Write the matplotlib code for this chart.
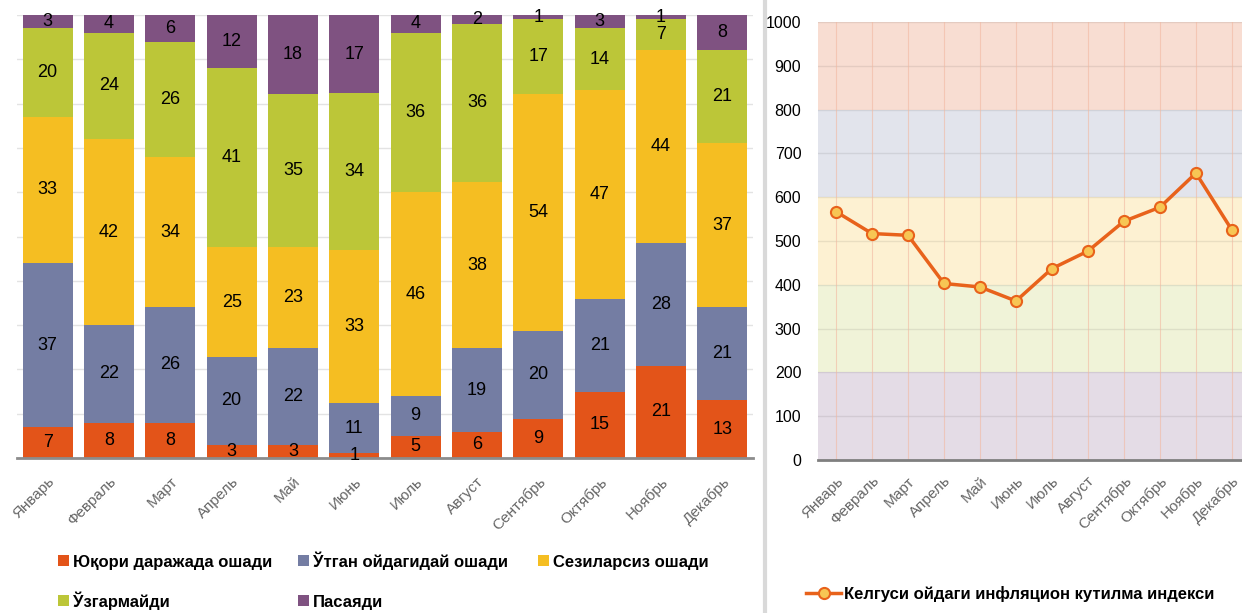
import numpy as np
import matplotlib.pyplot as plt
from matplotlib.lines import Line2D
from matplotlib.patches import Rectangle

plt.rcParams['font.family'] = ['Liberation Sans', 'DejaVu Sans']

# Ойлар
oylar = ['Январь', 'Февраль', 'Март', 'Апрель', 'Май', 'Июнь',
         'Июль', 'Август', 'Сентябрь', 'Октябрь', 'Ноябрь', 'Декабрь']

# Чап диаграмма (фоизларда)
yuqori = [7, 8, 8, 3, 3, 1, 5, 6, 9, 15, 21, 13]
utgan = [37, 22, 26, 20, 22, 11, 9, 19, 20, 21, 28, 21]
sezilarsiz = [33, 42, 34, 25, 23, 33, 46, 38, 54, 47, 44, 37]
uzgarmaydi = [20, 24, 26, 41, 35, 34, 36, 36, 17, 14, 7, 21]
pasayadi = [3, 4, 6, 12, 18, 17, 4, 2, 1, 3, 1, 8]

seriya_nomlari = ['Юқори даражада ошади', 'Ўтган ойдагидай ошади',
                  'Сезиларсиз ошади', 'Ўзгармайди', 'Пасаяди']
ranglar = ['#E35419', '#747DA3', '#F5BE22', '#BCC638', '#7F5281']

# Ўнг диаграмма
indeks = [567, 517, 513, 403, 395, 363, 437, 477, 545, 577, 655, 525]

W, H = 1242, 613
fig = plt.figure(figsize=(W / 100, H / 100), dpi=100)

# ---- чап
ax1 = fig.add_axes([17 / W, 155 / H, 736 / W, 443 / H])
x = np.arange(len(oylar))
seriyalar = [yuqori, utgan, sezilarsiz, uzgarmaydi, pasayadi]
jami = np.sum(np.array(seriyalar), axis=0)
pastki = np.zeros(len(oylar))
for qiymat, rang in zip(seriyalar, ranglar):
    q = np.array(qiymat) / jami * 100
    ax1.bar(x, q, 0.82, bottom=pastki, color=rang, zorder=2)
    for i in range(len(x)):
        ax1.text(x[i], pastki[i] + q[i] / 2, str(qiymat[i]), ha='center', va='center',
                 fontsize=13, color='black', zorder=3)
    pastki += q

ax1.set_xlim(-0.5, 11.5)
ax1.set_ylim(0, 100)
ax1.set_yticks(np.arange(0, 101, 10))
ax1.yaxis.grid(True, color='#E3E3E3', lw=1, zorder=0)
ax1.tick_params(axis='y', length=0, labelleft=False)
ax1.tick_params(axis='x', length=0, pad=12)
ax1.set_xticks(x)
ax1.set_xticklabels(oylar, rotation=45, ha='right', rotation_mode='anchor',
                    color='#666666', fontsize=11)
for s in ['top', 'right', 'left']:
    ax1.spines[s].set_visible(False)
ax1.spines['bottom'].set_color('#8C8C8C')
ax1.spines['bottom'].set_linewidth(2)

# легенда: 3 устун, 2 қатор (пиксел жойлари)
leg_x = [58, 298, 538]
leg_y = [567, 607]  # матн таянч чизиғи
for k, (nom, rang) in enumerate(zip(seriya_nomlari, ranglar)):
    lx = leg_x[k % 3]
    ly = leg_y[k // 3]
    fig.add_artist(Rectangle((lx / W, 1 - (ly - 1) / H), 11 / W, 11 / H,
                             transform=fig.transFigure, color=rang, lw=0))
    fig.text((lx + 15) / W, 1 - ly / H, nom, ha='left', va='baseline',
             fontsize=12, fontweight='bold', color='black')

# ажратувчи чизиқ
fig.add_artist(Line2D([765 / W, 765 / W], [0, 1], color='#D9D9D9', lw=3, zorder=-1))

# ---- ўнг
ax2 = fig.add_axes([818 / W, 153 / H, 424 / W, 438 / H])
bandlar = [(0, 200, '#E4DCE6'), (200, 400, '#F0F3D8'), (400, 600, '#FDF1D2'),
           (600, 800, '#E2E4EC'), (800, 1000, '#F8DDD2')]
for a, b, r in bandlar:
    ax2.axhspan(a, b, color=r, zorder=0, lw=0)
for yy in range(100, 1001, 100):
    ax2.axhline(yy, color='#000000', alpha=0.08, lw=1, zorder=1)
for i in range(len(oylar)):
    ax2.axvline(i, color='#F2B8A0', alpha=0.6, lw=0.8, zorder=1)
ax2.plot(x, indeks, color='#E8621B', lw=2.5, marker='o', markersize=8,
         markerfacecolor='#F7C654', markeredgecolor='#E8621B', markeredgewidth=1.5, zorder=3,
         label='Келгуси ойдаги инфляцион кутилма индекси')
ax2.set_xlim(-0.5, 11.28)
ax2.set_ylim(0, 1000)
ax2.set_yticks(np.arange(0, 1001, 100))
ax2.tick_params(axis='y', length=0, labelsize=11.5, pad=12)
ax2.tick_params(axis='x', length=0, pad=10)
ax2.set_xticks(x)
ax2.set_xticklabels(oylar, rotation=45, ha='right', rotation_mode='anchor',
                    color='#666666', fontsize=11)
for s in ['top', 'right', 'left']:
    ax2.spines[s].set_visible(False)
ax2.spines['bottom'].set_color('#7F7F7F')
ax2.spines['bottom'].set_linewidth(2)
fig.legend(loc='center left', bbox_to_anchor=(806 / W, 1 - 594 / H), frameon=False,
           handlelength=2.1, handletextpad=0.2, borderpad=0, borderaxespad=0,
           prop={'weight': 'bold', 'size': 12})

fig.savefig('out.png', dpi=100)
